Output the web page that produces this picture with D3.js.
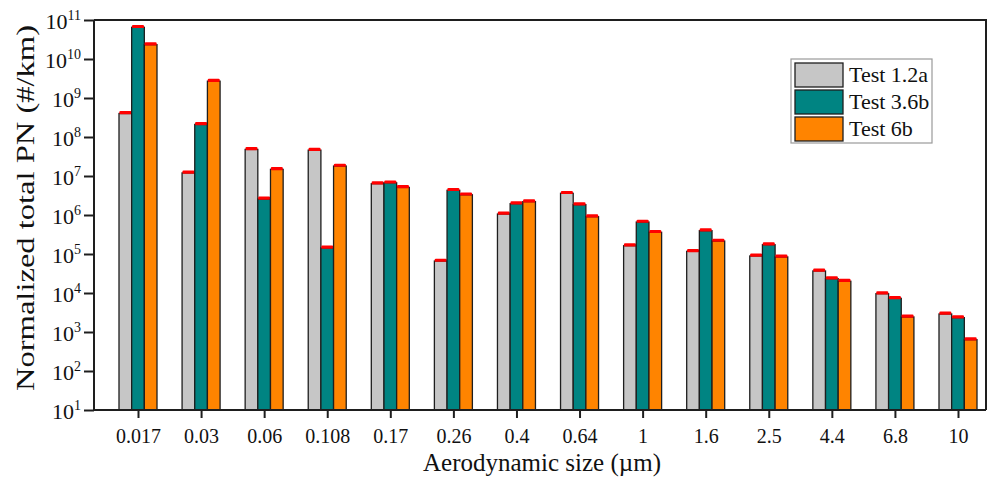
<!DOCTYPE html>
<html>
<head>
<meta charset="utf-8">
<script src="https://cdn.jsdelivr.net/npm/d3@7"></script>
<style>
  html, body { margin: 0; padding: 0; background: #fff; }
  svg { display: block; font-family: "Liberation Serif", "Times New Roman", serif; }
</style>
</head>
<body>
<svg id="chart" width="989" height="477"></svg>
<script>
// Particle size bins (aerodynamic diameter, µm)
const sizes = ["0.017", "0.03", "0.06", "0.108", "0.17", "0.26", "0.4", "0.64", "1", "1.6", "2.5", "4.4", "6.8", "10"];

// Normalized particle number per km for each test
const test12a = [4.0e8, 1.2e7, 4.8e7, 4.6e7, 6.35e6, 6.6e4, 1.06e6, 3.6e6, 1.63e5, 1.17e5, 8.9e4, 3.67e4, 9.6e3, 2.9e3];
const test36b = [6.5e10, 2.1e8, 2.57e6, 1.43e5, 6.7e6, 4.3e6, 1.95e6, 1.84e6, 6.6e5, 3.96e5, 1.73e5, 2.33e4, 7.3e3, 2.33e3];
const test6b  = [2.33e10, 2.7e9, 1.48e7, 1.8e7, 5.1e6, 3.3e6, 2.2e6, 9.05e5, 3.6e5, 2.15e5, 8.4e4, 2.0e4, 2.43e3, 635];

const seriesNames = ["Test 1.2a", "Test 3.6b", "Test 6b"];
const seriesColors = ["#c6c6c6", "#008482", "#ff8400"];
const yTickExponents = [1, 2, 3, 4, 5, 6, 7, 8, 9, 10, 11];

const series = [test12a, test36b, test6b].map((vals, i) => ({
  name: seriesNames[i], color: seriesColors[i], values: vals
}));

const svg = d3.select("#chart");
const plotLeft = 94, plotRight = 986, plotTop = 20, plotBottom = 410;
const serif = "Liberation Serif";

const x = d3.scalePoint().domain(sizes).range([138, 958]);
const inner = d3.scaleBand().domain(seriesNames).range([-19, 19]).padding(0);
const y = d3.scaleLog().domain([10, 1e11]).range([plotBottom, plotTop]);

// Bars
const groups = svg.append("g").selectAll("g")
  .data(series).join("g");

groups.selectAll("rect.bar")
  .data(s => s.values.map((v, i) => ({ v, cat: sizes[i], s })))
  .join("rect")
  .attr("class", "bar")
  .attr("x", d => x(d.cat) + inner(d.s.name))
  .attr("width", inner.bandwidth())
  .attr("y", d => y(d.v))
  .attr("height", d => plotBottom - y(d.v))
  .attr("fill", d => d.s.color)
  .attr("stroke", "#1e1e1e")
  .attr("stroke-width", 1.3);

// Red caps on the bar tops
groups.selectAll("rect.cap")
  .data(s => s.values.map((v, i) => ({ v, cat: sizes[i], s })))
  .join("rect")
  .attr("class", "cap")
  .attr("x", d => x(d.cat) + inner(d.s.name) + 0.3)
  .attr("width", inner.bandwidth() - 0.6)
  .attr("y", d => y(d.v) - 2.4)
  .attr("height", 3.2)
  .attr("rx", 1.2)
  .attr("fill", "#ff0000");

// Frame: top and right edges
svg.append("path")
  .attr("d", `M${plotLeft},${plotTop}H${plotRight}V${plotBottom}`)
  .attr("fill", "none").attr("stroke", "#1e1e1e").attr("stroke-width", 2);

// X axis
svg.append("g")
  .attr("transform", `translate(0,${plotBottom})`)
  .call(d3.axisBottom(x).tickSize(8).tickPadding(11))
  .attr("font-family", serif)
  .call(g => g.select(".domain").attr("d", `M${plotLeft},0H${plotRight}`).attr("stroke", "#1e1e1e").attr("stroke-width", 2))
  .call(g => g.selectAll(".tick line").attr("stroke", "#1e1e1e").attr("stroke-width", 2))
  .call(g => g.selectAll(".tick text").attr("font-family", serif).attr("font-size", 20).attr("fill", "#111"));

// Y axis with power-of-ten labels
const yAxis = svg.append("g")
  .attr("transform", `translate(${plotLeft},0)`)
  .call(d3.axisLeft(y).tickValues(yTickExponents.map(e => Math.pow(10, e))).tickSize(10).tickFormat(""))
  .attr("font-family", serif)
  .call(g => g.select(".domain").attr("d", `M0,${plotBottom}V${plotTop}`).attr("stroke", "#1e1e1e").attr("stroke-width", 2))
  .call(g => g.selectAll(".tick line").attr("stroke", "#1e1e1e").attr("stroke-width", 2));

yAxis.selectAll(".tick").each(function(d) {
  const e = Math.round(Math.log10(d));
  const t = d3.select(this).select("text")
    .attr("x", -13).attr("dy", null).attr("y", 8)
    .attr("text-anchor", "end")
    .attr("font-family", serif)
    .attr("font-size", 22).attr("fill", "#111");
  t.text(null);
  t.append("tspan").text("10");
  t.append("tspan").attr("font-size", 14).attr("dy", -9).text(e);
});

// Axis titles
svg.append("text")
  .attr("x", 542).attr("y", 471)
  .attr("text-anchor", "middle")
  .attr("font-size", 25).attr("fill", "#111")
  .text("Aerodynamic size (\u00b5m)");

svg.append("text")
  .attr("transform", "translate(34,208) rotate(-90)")
  .attr("text-anchor", "middle")
  .attr("font-size", 26).attr("fill", "#111")
  .attr("textLength", 366).attr("lengthAdjust", "spacingAndGlyphs")
  .text("Normalized total PN (#/km)");

// Legend
const legend = svg.append("g").attr("transform", "translate(791,59)");
legend.append("rect")
  .attr("width", 141).attr("height", 84)
  .attr("fill", "#fff").attr("stroke", "#9a9a9a").attr("stroke-width", 1.2);
const items = legend.selectAll("g.item").data(series).join("g")
  .attr("class", "item")
  .attr("transform", (d, i) => `translate(4,${4 + i * 27})`);
items.append("rect")
  .attr("width", 48).attr("height", 24)
  .attr("fill", d => d.color).attr("stroke", "#1e1e1e").attr("stroke-width", 1.3);
items.append("text")
  .attr("x", 54).attr("y", 19)
  .attr("font-size", 22).attr("fill", "#111")
  .text(d => d.name);
</script>
</body>
</html>
